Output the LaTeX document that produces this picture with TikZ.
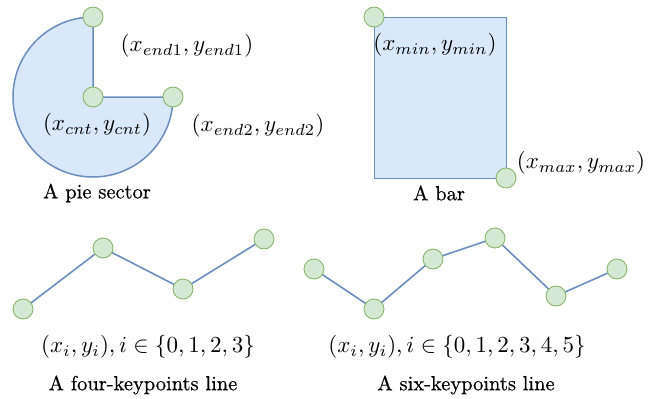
\documentclass[tikz,border=0pt]{standalone}
\usepackage{graphicx}
\usepackage{fontspec}
\newfontfamily\capfont{lmroman10-regular.otf}[FakeBold=0.5]
\usetikzlibrary{backgrounds}
\definecolor{kpfill}{HTML}{D5E8D4}
\definecolor{kpdraw}{HTML}{82B366}
\definecolor{bfill}{HTML}{DAE8FC}
\definecolor{bdraw}{HTML}{6C8EBF}
\newcommand{\mlab}[1]{\scalebox{2.3}{$#1$}}
\tikzset{
  kp/.style={circle, draw=kpdraw, fill=kpfill, minimum size=20pt, inner sep=0pt, line width=0.8pt},
  conn/.style={draw=bdraw, line width=1.6pt},
  shapebox/.style={draw=bdraw, fill=bfill, line width=1.5pt},
  mlabel/.style={inner sep=0pt},
  caption/.style={inner sep=0pt, font=\capfont\fontsize{20.5}{24}\selectfont},
}
\begin{document}
\begin{tikzpicture}[x=1pt,y=1pt]
\useasboundingbox (0,0) rectangle (654,-399);
% pie sector
\node[kp] (pc) at (93,-97) {};
\node[kp] (pe1) at (93,-17) {};
\node[kp] (pe2) at (173,-97) {};
\begin{pgfonlayer}{background}
\draw[shapebox] (pc.center) -- (pe1.center) arc[start angle=90, end angle=360, radius=80] -- cycle;
\end{pgfonlayer}
\node[mlabel] (lpe1) at (187,-46) {\mlab{(x_{end1}, y_{end1})}};
\node[mlabel] (lpc) at (97,-125) {\mlab{(x_{cnt}, y_{cnt})}};
\node[mlabel] (lpe2) at (258,-126) {\mlab{(x_{end2}, y_{end2})}};
\node[caption] (cpie) at (97,-193) {A pie sector};
% bar
\node[kp] (bmin) at (374,-17) {};
\node[kp] (bmax) at (506,-178) {};
\begin{pgfonlayer}{background}
\draw[shapebox, line width=1pt] (bmin.center) rectangle (bmax.center);
\end{pgfonlayer}
\node[mlabel] (lbmin) at (435,-45) {\mlab{(x_{min}, y_{min})}};
\node[mlabel] (lbmax) at (581,-163) {\mlab{(x_{max}, y_{max})}};
\node[caption] (cbar) at (439,-193) {A bar};
% four keypoints
\node[kp] (f0) at (23,-309) {};
\node[kp] (f1) at (103,-248) {};
\node[kp] (f2) at (183,-289) {};
\node[kp] (f3) at (264,-239) {};
\begin{pgfonlayer}{background}
\draw[conn] (f0.center) -- (f1.center) -- (f2.center) -- (f3.center);
\end{pgfonlayer}
\node[mlabel] (lf) at (148,-347) {\mlab{(x_i, y_i), i \in \{0,1,2,3\}}};
\node[caption] (cf) at (143,-385) {A four-keypoints line};
% six keypoints
\node[kp] (s0) at (314,-269) {};
\node[kp] (s1) at (374,-309) {};
\node[kp] (s2) at (433,-259) {};
\node[kp] (s3) at (495,-238) {};
\node[kp] (s4) at (556,-296) {};
\node[kp] (s5) at (617,-269) {};
\begin{pgfonlayer}{background}
\draw[conn] (s0.center) -- (s1.center) -- (s2.center) -- (s3.center) -- (s4.center) -- (s5.center);
\end{pgfonlayer}
\node[mlabel] (ls) at (457,-347) {\mlab{(x_i, y_i), i \in \{0,1,2,3,4,5\}}};
\node[caption] (cs) at (466,-385) {A six-keypoints line};
\end{tikzpicture}
\end{document}
